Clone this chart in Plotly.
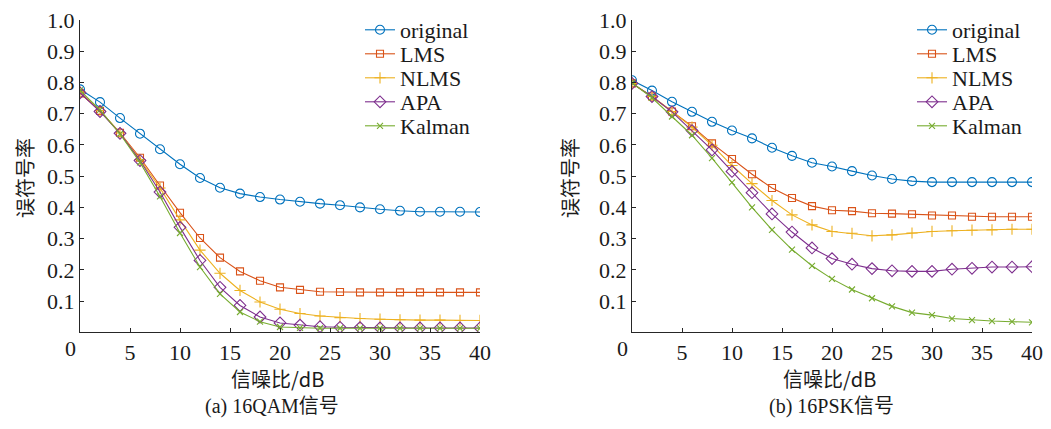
import plotly.graph_objects as go

# page body keeps an 8px margin, so the figure is 16px smaller and all
# reference screen positions are shifted by -8px
W, H = 1035, 413
OFF = 8

snr = [0, 2, 4, 6, 8, 10, 12, 14, 16, 18, 20, 22, 24, 26, 28, 30, 32, 34, 36, 38, 40]
x_ticks = [5, 10, 15, 20, 25, 30, 35, 40]
y_ticks = [0.1, 0.2, 0.3, 0.4, 0.5, 0.6, 0.7, 0.8, 0.9, 1.0]
series_names = ["original", "LMS", "NLMS", "APA", "Kalman"]

# (a) 16QAM
orig_a = [0.778, 0.737, 0.686, 0.636, 0.586, 0.538, 0.494, 0.463, 0.444, 0.433, 0.425,
          0.418, 0.412, 0.407, 0.400, 0.394, 0.389, 0.386, 0.386, 0.386, 0.385]
lms_a = [0.765, 0.709, 0.639, 0.559, 0.470, 0.383, 0.302, 0.239, 0.195, 0.165, 0.144,
         0.136, 0.130, 0.129, 0.128, 0.128, 0.128, 0.128, 0.128, 0.128, 0.128]
nlms_a = [0.770, 0.710, 0.638, 0.553, 0.462, 0.360, 0.263, 0.189, 0.134, 0.097, 0.074,
          0.060, 0.052, 0.047, 0.044, 0.042, 0.040, 0.039, 0.039, 0.038, 0.038]
apa_a = [0.767, 0.707, 0.637, 0.550, 0.449, 0.336, 0.230, 0.144, 0.086, 0.049, 0.030,
         0.023, 0.018, 0.016, 0.015, 0.014, 0.014, 0.014, 0.014, 0.014, 0.014]
kal_a = [0.775, 0.712, 0.635, 0.544, 0.435, 0.318, 0.209, 0.123, 0.065, 0.034, 0.017,
         0.014, 0.013, 0.013, 0.013, 0.013, 0.013, 0.013, 0.013, 0.013, 0.013]

# (b) 16PSK
orig_b = [0.807, 0.774, 0.738, 0.706, 0.674, 0.646, 0.621, 0.591, 0.565, 0.543, 0.531,
          0.516, 0.502, 0.491, 0.484, 0.481, 0.481, 0.481, 0.481, 0.481, 0.481]
lms_b = [0.797, 0.755, 0.707, 0.660, 0.605, 0.555, 0.506, 0.462, 0.430, 0.404, 0.391,
         0.388, 0.381, 0.380, 0.378, 0.374, 0.374, 0.370, 0.370, 0.370, 0.370]
nlms_b = [0.797, 0.755, 0.707, 0.657, 0.599, 0.534, 0.476, 0.422, 0.376, 0.344, 0.323,
          0.317, 0.309, 0.312, 0.318, 0.323, 0.325, 0.327, 0.328, 0.330, 0.330]
apa_b = [0.797, 0.755, 0.706, 0.646, 0.584, 0.515, 0.447, 0.379, 0.321, 0.270, 0.236,
         0.218, 0.204, 0.197, 0.195, 0.195, 0.202, 0.205, 0.209, 0.209, 0.210]
kal_b = [0.799, 0.751, 0.691, 0.631, 0.558, 0.480, 0.400, 0.328, 0.265, 0.213, 0.171,
         0.137, 0.109, 0.083, 0.063, 0.055, 0.044, 0.039, 0.036, 0.034, 0.032]

colors = ["#0072BD", "#D95319", "#EDB120", "#7E2F8E", "#77AC30"]
symbols = ["circle-open", "square-open", "cross-thin-open", "diamond-open", "x-thin-open"]
msizes = [9, 7, 8, 9, 6]

SERIF = "Liberation Serif, Times New Roman, Noto Sans CJK SC, serif"
CJK = "Noto Sans CJK SC, Liberation Serif, serif"
INK = "#262626"
TXT = "#1a1a1a"


def fx(px):
    return (px - OFF) / W


def fy(py):
    return 1 - (py - OFF) / H


fig = go.Figure()
legends = {}
for p, (data, xa, ya, leg_x) in enumerate([
    ([orig_a, lms_a, nlms_a, apa_a, kal_a], "x", "y", 360),
    ([orig_b, lms_b, nlms_b, apa_b, kal_b], "x2", "y2", 912),
]):
    for i, name in enumerate(series_names):
        k = p * 5 + i
        lg = "legend" if k == 0 else f"legend{k + 1}"
        fig.add_trace(go.Scatter(
            x=snr, y=data[i], name=name, mode="lines+markers",
            xaxis=xa, yaxis=ya, legend=lg,
            line=dict(color=colors[i], width=1.1),
            marker=dict(symbol=symbols[i], size=msizes[i], color=colors[i],
                        line=dict(color=colors[i], width=1.1)),
        ))
        legends[lg] = dict(font=dict(family=SERIF, size=22, color=TXT),
                           bgcolor="rgba(0,0,0,0)", borderwidth=0,
                           xanchor="left", yanchor="middle",
                           x=fx(leg_x), y=fy(30 + 24 * i))

dom_a = [fx(80), fx(480)]
dom_b = [fx(632), fx(1032)]
ydom = [fy(332.3), fy(20)]


def xaxis(domain, anchor):
    return dict(domain=domain, anchor=anchor, range=[0, 40], tickvals=x_ticks,
                ticks="inside", ticklen=4, tickcolor=INK, showline=True, linecolor=INK,
                linewidth=1, showgrid=False, zeroline=False, automargin=False,
                ticklabeloverflow="allow",
                tickfont=dict(family=SERIF, size=22, color=TXT))


def yaxis(anchor):
    return dict(domain=ydom, anchor=anchor, range=[0, 1], tickvals=y_ticks,
                tickformat=".1f", ticks="inside", ticklen=4, tickcolor=INK,
                showline=True, linecolor=INK, linewidth=1, showgrid=False,
                zeroline=False, automargin=False, ticklabeloverflow="allow",
                tickfont=dict(family=SERIF, size=22, color=TXT))


annotations = []
for xr, title_x, cap, cap_x, ylab_x in [
    ("x domain", 277, "(a) 16QAM信号", 272, 24),
    ("x2 domain", 829, "(b) 16PSK信号", 831, 569),
]:
    common = dict(xref="paper", yref="paper", showarrow=False,
                  xanchor="center", yanchor="middle")
    annotations += [
        dict(text="信噪比/dB", x=fx(title_x), y=fy(378),
             font=dict(family=CJK, size=20, color=TXT), **common),
        dict(text=cap, x=fx(cap_x), y=fy(406),
             font=dict(family=SERIF, size=20, color=TXT), **common),
        dict(text="误符号率", x=fx(ylab_x), y=fy(178), textangle=-90,
             font=dict(family=CJK, size=20, color=TXT), **common),
        dict(text="0", x=-10 / 400, y=fy(348), xref=xr, yref="paper",
             showarrow=False, xanchor="center", yanchor="middle",
             font=dict(family=SERIF, size=22, color=TXT)),
    ]

fig.update_layout(
    width=W, height=H, margin=dict(l=0, r=0, t=0, b=0),
    paper_bgcolor="white", plot_bgcolor="white",
    xaxis=xaxis(dom_a, "y"), yaxis=yaxis("x"),
    xaxis2=xaxis(dom_b, "y2"), yaxis2=yaxis("x2"),
    annotations=annotations,
    showlegend=True,
    **legends,
)

fig.write_html("out.html")
